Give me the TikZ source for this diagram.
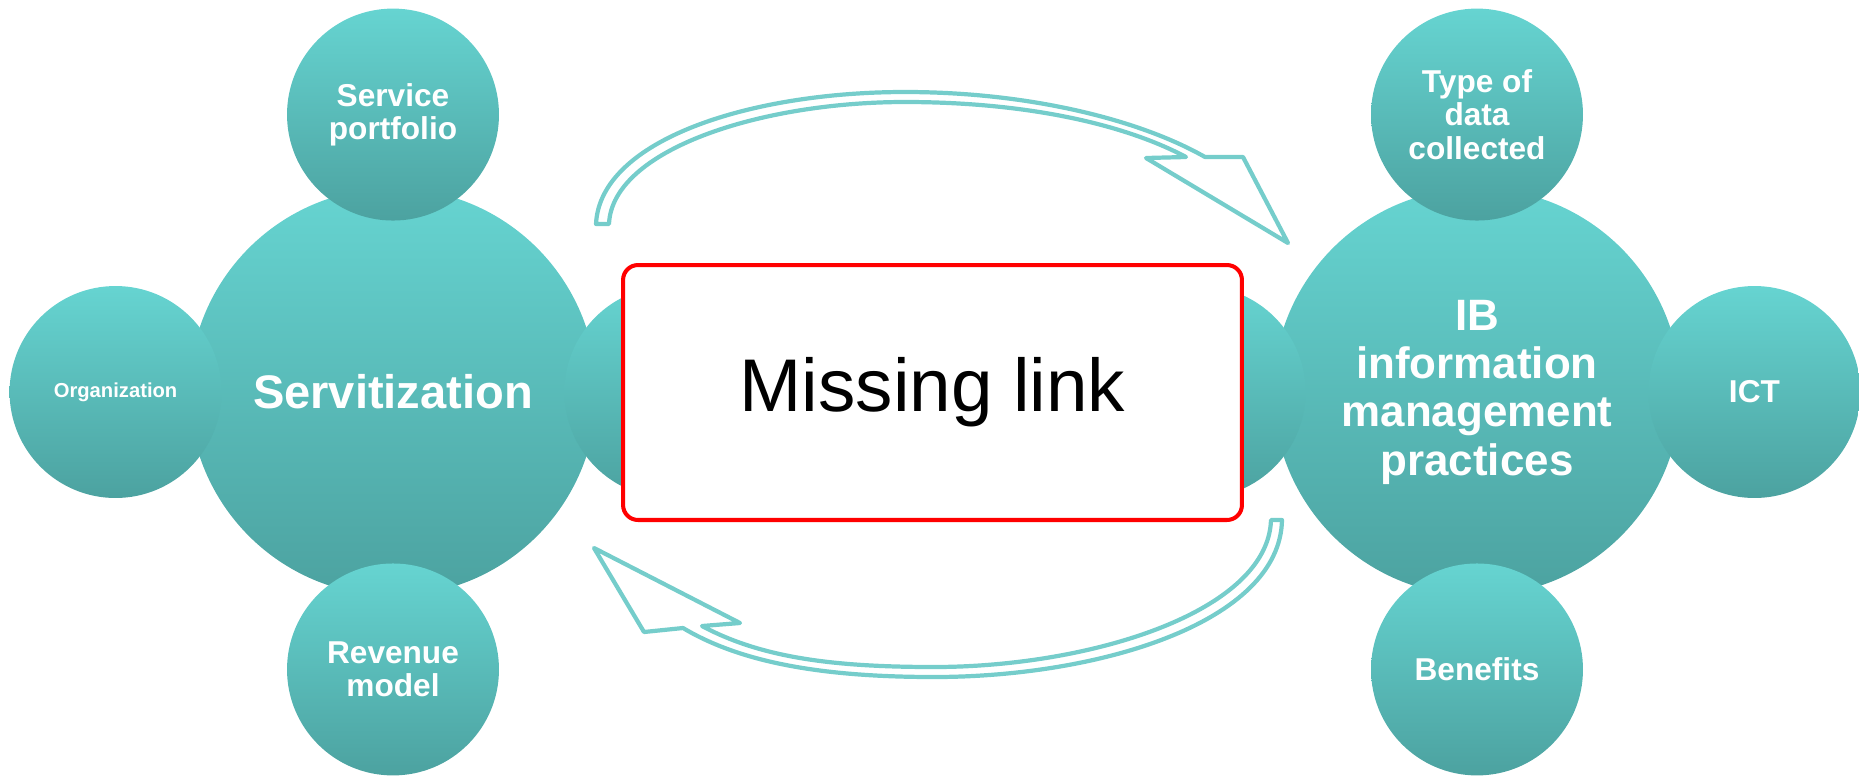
\documentclass[tikz,border=0pt]{standalone}
\usepackage{fontspec}
\setmainfont{Liberation Sans}
\usetikzlibrary{positioning}
\definecolor{tealtop}{RGB}{102,212,209}
\definecolor{tealbot}{RGB}{76,162,160}
\definecolor{arrowline}{RGB}{117,205,203}
\begin{document}
\begin{tikzpicture}[x=0.02cm,y=-0.02cm,node distance=5.55cm,
  hub/.style={circle,minimum size=8.15cm,inner sep=0pt,top color=tealtop,bottom color=tealbot,text=white,align=center},
  sat/.style={circle,minimum size=4.24cm,inner sep=0pt,top color=tealtop,bottom color=tealbot,text=white,align=center,font=\bfseries\fontsize{18}{19}\selectfont},
  bentarrow/.style={draw=arrowline,line width=2.4pt,line join=round}]
  \useasboundingbox (0,0) rectangle (1859,775);
  \node (serv) [hub,font=\bfseries\fontsize{26.8}{28}\selectfont] at (393,392) {Servitization};
  \node (port) [sat,above of=serv] {Service\\portfolio};
  \node (org) [sat,left of=serv,font=\bfseries\fontsize{11.5}{12}\selectfont] {Organization};
  \node (rev) [sat,below of=serv] {Revenue\\model};
  \node (servr) [sat,right of=serv] {};
  \node (ibim) [hub,font=\bfseries\fontsize{25}{27.5}\selectfont] at (1477,392) {IB\\information\\management\\practices};
  \node (type) [sat,above of=ibim] {Type of\\data\\collected};
  \node (ict) [sat,right of=ibim] {ICT};
  \node (ben) [sat,below of=ibim] {Benefits};
  \node (ibiml) [sat,left of=ibim] {};
  \draw[bentarrow] (596,224) .. controls (600,140) and (750,92) .. (905,92)
    .. controls (1030,92) and (1140,120) .. (1205,157) -- (1243,157) -- (1288,243)
    -- (1146,158) -- (1186,157) .. controls (1120,122) and (1020,102) .. (905,102)
    .. controls (760,102) and (612,150) .. (609,224) -- cycle;
  \draw[bentarrow] (1282,520) .. controls (1280,622) and (1100,677) .. (934,677)
    .. controls (820,677) and (740,662) .. (683,628) -- (644,632) -- (594,548)
    -- (740,623) -- (702,626) .. controls (760,657) and (830,667) .. (934,667)
    .. controls (1090,667) and (1268,612) .. (1271,520) -- cycle;
  \node (gap) [draw=red,line width=2.3pt,rounded corners=8.5pt,fill=white,minimum width=12.38cm,minimum height=5.1cm,font=\fontsize{42.5}{44}\selectfont] at (932.5,392.5) {Missing link};
\end{tikzpicture}
\end{document}
